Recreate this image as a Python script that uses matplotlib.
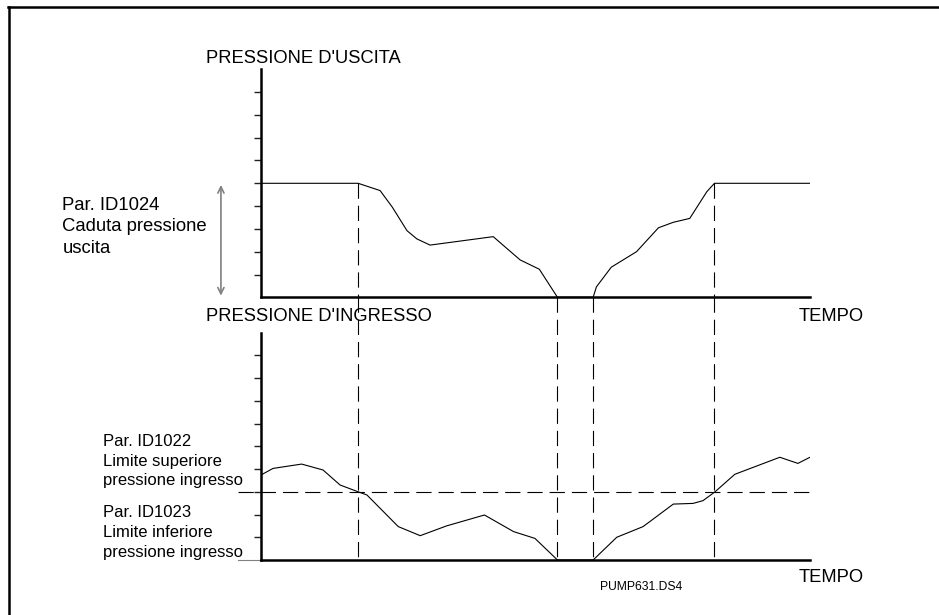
import matplotlib
matplotlib.use("Agg")
import matplotlib.pyplot as plt
from matplotlib.lines import Line2D

plt.rcParams['font.family'] = ['Liberation Sans', 'DejaVu Sans']
plt.rcParams['lines.scale_dashes'] = False

# output pressure (top) - time in % of the shown span, pressure in tick units
t_out = [0, 17.7, 21.7, 23.9, 26.6, 28.4, 30.8, 42.3, 47.2, 50.7, 54.0,
         60.5, 61.1, 63.8, 68.4, 72.4, 75.1, 78.1, 81.2, 82.6, 100]
p_out = [5.0, 5.0, 4.68, 3.96, 2.92, 2.56, 2.29, 2.66, 1.64, 1.23, 0.0,
         0.0, 0.46, 1.32, 2.0, 3.05, 3.29, 3.46, 4.63, 5.0, 5.0]

# input pressure (bottom)
t_in = [0, 2.2, 7.4, 11.3, 14.4, 17.7, 19.3, 25.0, 29.0, 33.8, 40.7, 46.0,
        49.9, 54.0, 60.5, 64.8, 69.6, 75.1, 78.7, 80.5, 82.7, 86.3, 94.5,
        97.8, 100]
p_in = [3.74, 4.03, 4.22, 3.96, 3.30, 3.0, 2.86, 1.47, 1.07, 1.50, 1.98,
        1.25, 0.95, 0.0, 0.0, 1.0, 1.47, 2.46, 2.49, 2.61, 3.0, 3.77, 4.52,
        4.25, 4.52]

drop_level = 5.0        # ID1024 span
limit_level = 3.0       # ID1022 / ID1023 threshold
events = [17.7, 54.0, 60.5, 82.6]
ticks = [1, 2, 3, 4, 5, 6, 7, 8, 9]

W, H = 939, 615
fig = plt.figure(figsize=(W / 100, H / 100), dpi=100)


def fx(x, y):
    return x / W, 1 - y / H


dash = (0, (11, 5))

ax1 = fig.add_axes([261 / W, 1 - 297.3 / H, 549 / W, 228 / H])
ax2 = fig.add_axes([261 / W, 1 - 560 / H, 549 / W, 227.3 / H])

for ax in (ax1, ax2):
    ax.set_xlim(0, 100)
    ax.set_ylim(0, 10)
    ax.spines['top'].set_visible(False)
    ax.spines['right'].set_visible(False)
    ax.spines['left'].set_linewidth(1.8)
    ax.spines['bottom'].set_linewidth(1.8)
    ax.set_xticks([])
    ax.set_yticks(ticks)
    ax.set_yticklabels([])
    ax.tick_params(axis='y', direction='out', length=5, width=1, color='#222222')
    ax.patch.set_alpha(0)

ax1.plot(t_out, p_out, color='black', lw=0.8)
ax2.plot(t_in, p_in, color='black', lw=0.8)

# event markers
for t in (events[0], events[3]):
    ax1.plot([t, t], [drop_level, 0], color='black', lw=0.8, linestyle=dash)
for t in events:
    ax2.plot([t, t], [11.56, 0], color='black', lw=0.8, linestyle=dash,
             clip_on=False)

ax2.plot([-4.2, 100], [limit_level, limit_level], color='black', lw=0.8,
         linestyle=dash, clip_on=False)
ax2.plot([-4.2, 0], [0, 0], color='gray', lw=0.8, clip_on=False)

ax1.annotate('', xy=(-7.3, -0.05), xytext=(-7.3, drop_level + 0.05),
             arrowprops=dict(arrowstyle='<->,head_length=0.45,head_width=0.22',
                             color='gray', lw=1.2),
             annotation_clip=False)

big = 13.2
fig.text(*fx(206, 63.3), "PRESSIONE D'USCITA", fontsize=big, va='baseline')
fig.text(*fx(206, 320.7), "PRESSIONE D'INGRESSO", fontsize=big, va='baseline')
fig.text(*fx(799, 320.7), "TEMPO", fontsize=big, va='baseline')
fig.text(*fx(799, 581.7), "TEMPO", fontsize=big, va='baseline')
fig.text(*fx(600, 590), "PUMP631.DS4", fontsize=8.7, va='baseline')

for i, s in enumerate(["Par. ID1024", "Caduta pressione", "uscita"]):
    fig.text(*fx(62.3, 210 + i * 21.3), s, fontsize=13.3, va='baseline')

lower = ["Par. ID1022", "Limite superiore", "pressione ingresso",
         "Par. ID1023", "Limite inferiore", "pressione ingresso"]
base_y = [446, 465.7, 485, 517.3, 537.3, 557.3]
for s, y in zip(lower, base_y):
    fig.text(*fx(103.3, y), s, fontsize=12, va='baseline')

# page frame (top and left edge only)
fig.add_artist(Line2D([8 / W, 1], [1 - 7 / H, 1 - 7 / H], color='black', lw=1.8))
fig.add_artist(Line2D([9 / W, 9 / W], [0, 1 - 7 / H], color='black', lw=1.8))

fig.savefig("out.png", dpi=100)
